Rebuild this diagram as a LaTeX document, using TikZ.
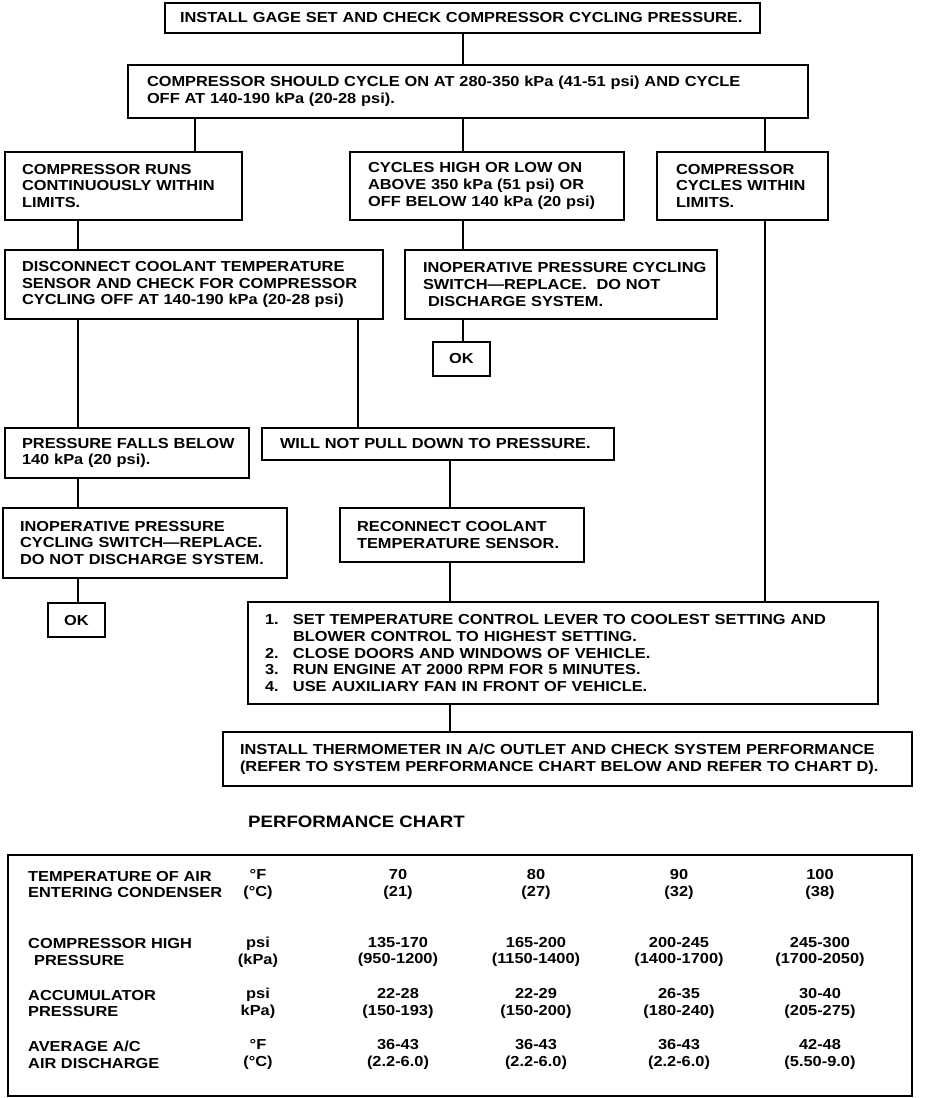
\documentclass[tikz,border=0pt]{standalone}
\usepackage{fontspec}
\setmainfont{Liberation Sans}[FakeStretch=1.13]
\newcommand\rl[1]{\mbox{#1}}
\begin{document}
\begin{tikzpicture}[x=1pt,y=-1pt,
  txt/.style={font=\bfseries\fontsize{14.5}{16.7}\selectfont},
  box/.style={txt, draw, line width=2.8pt, inner ysep=0pt, outer sep=0pt, align=left, anchor=north west},
  okbox/.style={txt, draw, line width=2.8pt, inner sep=0pt, outer sep=0pt, align=center, anchor=north west, minimum width=57pt, minimum height=34pt},
  conn/.style={line width=2.2pt},
  cell/.style={txt, inner sep=0pt, align=center},
  lab/.style={txt, inner sep=0pt, align=left, anchor=west}]
\useasboundingbox (0,0) rectangle (928,1098);

\node[box, inner xsep=15pt, text width=565pt, minimum height=30pt] (b1) at (165,3)
  {\rl{INSTALL GAGE SET AND CHECK COMPRESSOR CYCLING PRESSURE.}};
\node[box, inner xsep=19pt, text width=642pt, minimum height=53pt] (b2) at (128,65)
  {\rl{COMPRESSOR SHOULD CYCLE ON AT 280-350 kPa (41-51 psi) AND CYCLE}\\\rl{OFF AT 140-190 kPa (20-28 psi).}};
\node[box, inner xsep=17pt, text width=203pt, minimum height=68pt] (b3) at (5,152)
  {\rl{COMPRESSOR RUNS}\\\rl{CONTINUOUSLY WITHIN}\\\rl{LIMITS.}};
\node[box, inner xsep=18pt, text width=238pt, minimum height=68pt] (b4) at (350,152)
  {\rl{CYCLES HIGH OR LOW ON}\\\rl{ABOVE 350 kPa (51 psi) OR}\\\rl{OFF BELOW 140 kPa (20 psi)}};
\node[box, inner xsep=19pt, text width=133pt, minimum height=68pt] (b5) at (657,152)
  {\rl{COMPRESSOR}\\\rl{CYCLES WITHIN}\\\rl{LIMITS.}};
\node[box, inner xsep=17pt, text width=344pt, minimum height=69pt] (b6) at (5,250)
  {\rl{DISCONNECT COOLANT TEMPERATURE}\\\rl{SENSOR AND CHECK FOR COMPRESSOR}\\\rl{CYCLING OFF AT 140-190 kPa (20-28 psi)}};
\node[box, inner xsep=18pt, text width=276pt, minimum height=69pt] (b7) at (405,250)
  {\rl{INOPERATIVE PRESSURE CYCLING}\\\rl{SWITCH---REPLACE.\ \ DO NOT}\\\rl{\hspace{5pt}DISCHARGE SYSTEM.}};
\node[okbox] (ok1) at (433,342) {OK};
\node[box, inner xsep=17pt, text width=210pt, minimum height=50pt] (b8) at (5,428)
  {\rl{PRESSURE FALLS BELOW}\\\rl{140 kPa (20 psi).}};
\node[box, inner xsep=18pt, text width=316pt, minimum height=32pt] (b9) at (262,428)
  {\rl{WILL NOT PULL DOWN TO PRESSURE.}};
\node[box, inner xsep=17pt, text width=250pt, minimum height=70pt] (b10) at (3,508)
  {\rl{INOPERATIVE PRESSURE}\\\rl{CYCLING SWITCH---REPLACE.}\\\rl{DO NOT DISCHARGE SYSTEM.}};
\node[okbox] (ok2) at (48,603) {OK};
\node[box, inner xsep=17pt, text width=210pt, minimum height=54pt] (b11) at (340,508)
  {\rl{RECONNECT COOLANT}\\\rl{TEMPERATURE SENSOR.}};
\node[box, inner xsep=17pt, text width=596pt, minimum height=102pt] (b12) at (248,602)
  {\rl{\makebox[28pt][l]{1.}SET TEMPERATURE CONTROL LEVER TO COOLEST SETTING AND}\\
   \rl{\makebox[28pt][l]{}BLOWER CONTROL TO HIGHEST SETTING.}\\
   \rl{\makebox[28pt][l]{2.}CLOSE DOORS AND WINDOWS OF VEHICLE.}\\
   \rl{\makebox[28pt][l]{3.}RUN ENGINE AT 2000 RPM FOR 5 MINUTES.}\\
   \rl{\makebox[28pt][l]{4.}USE AUXILIARY FAN IN FRONT OF VEHICLE.}};
\node[box, inner xsep=17pt, text width=655pt, minimum height=54pt] (b13) at (223,732)
  {\rl{INSTALL THERMOMETER IN A/C OUTLET AND CHECK SYSTEM PERFORMANCE}\\\rl{(REFER TO SYSTEM PERFORMANCE CHART BELOW AND REFER TO CHART D).}};

% connectors
\draw[conn] (b1.south -| 463,0) -- (b2.north -| 463,0);
\draw[conn] (b2.south -| 195,0) -- (b3.north -| 195,0);
\draw[conn] (b2.south -| 463,0) -- (b4.north -| 463,0);
\draw[conn] (b2.south -| 765,0) -- (b5.north -| 765,0);
\draw[conn] (b3.south -| 78,0) -- (b6.north -| 78,0);
\draw[conn] (b4.south -| 463,0) -- (b7.north -| 463,0);
\draw[conn] (b7.south -| 463,0) -- (ok1.north -| 463,0);
\draw[conn] (b6.south -| 78,0) -- (b8.north -| 78,0);
\draw[conn] (b6.south -| 358,0) -- (b9.north -| 358,0);
\draw[conn] (b8.south -| 78,0) -- (b10.north -| 78,0);
\draw[conn] (b10.south -| 78,0) -- (ok2.north -| 78,0);
\draw[conn] (b9.south -| 450,0) -- (b11.north -| 450,0);
\draw[conn] (b11.south -| 450,0) -- (b12.north -| 450,0);
\draw[conn] (b5.south -| 765,0) -- (b12.north -| 765,0);
\draw[conn] (b12.south -| 450,0) -- (b13.north -| 450,0);

% performance chart
\node[txt, font=\bfseries\fontsize{16.5}{18}\selectfont, anchor=west, inner sep=0pt] (title) at (248,822) {PERFORMANCE CHART};
\node[draw, line width=2.8pt, outer sep=0pt, inner sep=0pt, minimum width=904pt, minimum height=241pt, anchor=north west] (chart) at (8,855) {};

\node[lab] (r1l) at (28,884.5) {TEMPERATURE OF AIR\\ENTERING CONDENSER};
\node[lab] (r2l) at (28,952) {COMPRESSOR HIGH\\\hspace{6pt}PRESSURE};
\node[lab] (r3l) at (28,1003.5) {ACCUMULATOR\\PRESSURE};
\node[lab] (r4l) at (28,1054.5) {AVERAGE A/C\\AIR DISCHARGE};

\node[cell] (r1u) at (258,884.5) {°F\\(°C)};
\node[cell] (r2u) at (258,952) {psi\\(kPa)};
\node[cell] (r3u) at (258,1003.5) {psi\\kPa)};
\node[cell] (r4u) at (258,1054.5) {°F\\(°C)};

\node[cell] (r1a) at (398,884.5) {70\\(21)};
\node[cell] (r1b) at (536,884.5) {80\\(27)};
\node[cell] (r1c) at (679,884.5) {90\\(32)};
\node[cell] (r1d) at (820,884.5) {100\\(38)};

\node[cell] (r2a) at (398,952) {135-170\\(950-1200)};
\node[cell] (r2b) at (536,952) {165-200\\(1150-1400)};
\node[cell] (r2c) at (679,952) {200-245\\(1400-1700)};
\node[cell] (r2d) at (820,952) {245-300\\(1700-2050)};

\node[cell] (r3a) at (398,1003.5) {22-28\\(150-193)};
\node[cell] (r3b) at (536,1003.5) {22-29\\(150-200)};
\node[cell] (r3c) at (679,1003.5) {26-35\\(180-240)};
\node[cell] (r3d) at (820,1003.5) {30-40\\(205-275)};

\node[cell] (r4a) at (398,1054.5) {36-43\\(2.2-6.0)};
\node[cell] (r4b) at (536,1054.5) {36-43\\(2.2-6.0)};
\node[cell] (r4c) at (679,1054.5) {36-43\\(2.2-6.0)};
\node[cell] (r4d) at (820,1054.5) {42-48\\(5.50-9.0)};
\end{tikzpicture}
\end{document}
